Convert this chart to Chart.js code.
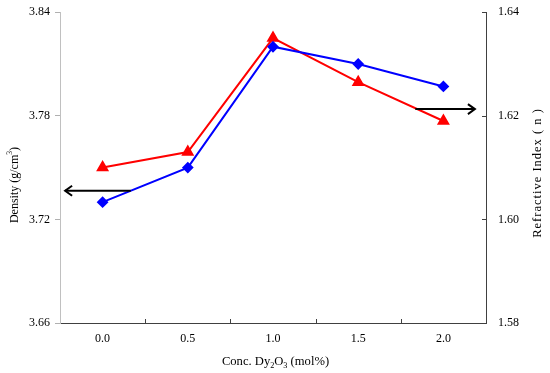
<!DOCTYPE html>
<html><head><meta charset="utf-8">
<script src="https://cdn.jsdelivr.net/npm/chart.js@4.4.0/dist/chart.umd.min.js"></script>
<style>html,body{margin:0;padding:0;background:#fff}#wrap{width:550px;height:373px}</style>
</head><body><div id="wrap"><canvas id="c" width="550" height="373"></canvas></div>
<script>
const categories = ['0.0', '0.5', '1.0', '1.5', '2.0'];
const density = [3.730, 3.750, 3.820, 3.810, 3.797];
const refractiveIndex = [1.610, 1.613, 1.635, 1.6265, 1.619];
const densityTicks = [3.66, 3.72, 3.78, 3.84];
const indexTicks = [1.58, 1.60, 1.62, 1.64];
// rich-text titles: [text, kind] where kind: '' normal, 'sub', 'sup'
const xTitle = [['Conc. Dy', ''], ['2', 'sub'], ['O', ''], ['3', 'sub'], [' (mol%)', '']];
const yLeftTitle = [['Density (g/cm', ''], ['3', 'sup'], [')', '']];
const yRightTitle = [['Refractive Index ( n )', '']];

const FONT = '"Liberation Serif", "Times New Roman", serif';

function richWidth(ctx, parts, size, spacing) {
  let w = 0;
  parts.forEach(([t, k]) => {
    ctx.font = (k ? size * 0.65 : size) + 'px ' + FONT;
    w += ctx.measureText(t).width + spacing * t.length;
  });
  return w;
}
function drawRich(ctx, parts, cx, cy, size, spacing) {
  ctx.letterSpacing = spacing + 'px';
  const w = richWidth(ctx, parts, size, spacing);
  let x = cx - w / 2;
  ctx.textAlign = 'left'; ctx.textBaseline = 'middle';
  parts.forEach(([t, k]) => {
    const s = k ? size * 0.65 : size;
    ctx.font = s + 'px ' + FONT;
    const dy = k === 'sub' ? size * 0.3 : k === 'sup' ? -size * 0.38 : 0;
    ctx.fillText(t, x, cy + dy);
    x += ctx.measureText(t).width + (ctx.letterSpacing === spacing + 'px' ? 0 : spacing * t.length);
  });
  ctx.letterSpacing = '0px';
}

const deco = {
  id: 'deco',
  afterDraw(chart) {
    const ctx = chart.ctx, a = chart.chartArea;
    const x = chart.scales.x, yl = chart.scales.y, yr = chart.scales.y2;
    ctx.save();
    ctx.strokeStyle = '#404040'; ctx.lineWidth = 1;
    for (let i = 0; i < categories.length - 1; i++) {
      const px = Math.round(x.getPixelForValue(i + 0.5)) + 0.5;
      ctx.beginPath(); ctx.moveTo(px, a.bottom); ctx.lineTo(px, a.bottom - 4); ctx.stroke();
    }
    indexTicks.forEach(v => {
      const py = Math.round(yr.getPixelForValue(v)) + 0.5;
      ctx.beginPath(); ctx.moveTo(a.right - 4, py); ctx.lineTo(a.right + 1, py); ctx.stroke();
    });
    ctx.strokeStyle = '#000'; ctx.lineWidth = 2;
    function arrow(x1, x2, y) {
      const d = x2 > x1 ? 1 : -1;
      ctx.beginPath(); ctx.moveTo(x1, y); ctx.lineTo(x2, y); ctx.stroke();
      ctx.beginPath(); ctx.moveTo(x2 - d * 7, y - 5); ctx.lineTo(x2, y); ctx.lineTo(x2 - d * 7, y + 5); ctx.stroke();
    }
    arrow(x.getPixelForValue(0.33), x.getPixelForValue(-0.44), yl.getPixelForValue(3.7366));
    arrow(x.getPixelForValue(3.67), x.getPixelForValue(4.37), yr.getPixelForValue(1.6213));
    ctx.fillStyle = '#000';
    drawRich(ctx, xTitle, 275.5, 362, 12.6, 0);
    ctx.save(); ctx.translate(15, 185); ctx.rotate(-Math.PI / 2);
    drawRich(ctx, yLeftTitle, 0, 0, 12, 0); ctx.restore();
    ctx.save(); ctx.translate(538, 162); ctx.rotate(-Math.PI / 2);
    drawRich(ctx, yRightTitle, 0, 0, 12.5, 1); ctx.restore();
    ctx.restore();
  }
};

new Chart(document.getElementById('c'), {
  type: 'line',
  data: {
    labels: categories,
    datasets: [
      { label: 'Density', data: density, yAxisID: 'y', borderColor: '#0000ff', backgroundColor: '#0000ff',
        borderWidth: 2, pointStyle: 'rectRot', pointRadius: 4.5, pointHoverRadius: 4.5, tension: 0 },
      { label: 'Refractive Index', data: refractiveIndex, yAxisID: 'y2', borderColor: '#ff0000', backgroundColor: '#ff0000',
        borderWidth: 2, pointStyle: 'triangle', pointRadius: 5.5, pointHoverRadius: 5.5, tension: 0 }
    ]
  },
  options: {
    responsive: false, animation: false,
    layout: { padding: { top: 12, left: 0, right: 0, bottom: 0 } },
    plugins: { legend: { display: false }, tooltip: { enabled: false } },
    scales: {
      x: {
        offset: true,
        grid: { display: false },
        border: { display: true, color: '#404040', width: 1 },
        ticks: { color: '#000', font: { family: FONT, size: 12 }, padding: 1 },
        afterFit(s) { s.height = 50; }
      },
      y: {
        position: 'left', min: 3.66, max: 3.84,
        afterBuildTicks(s) { s.ticks = densityTicks.map(v => ({ value: v })); },
        grid: { drawOnChartArea: false, color: '#b0b0b0', tickLength: 5 },
        border: { display: true, color: '#c0c0c0', width: 1 },
        ticks: { color: '#000', font: { family: FONT, size: 12 }, padding: 5, callback: v => v.toFixed(2) },
        afterFit(s) { s.width = 60; }
      },
      y2: {
        position: 'right', min: 1.58, max: 1.64,
        afterBuildTicks(s) { s.ticks = indexTicks.map(v => ({ value: v })); },
        grid: { display: false },
        border: { display: true, color: '#404040', width: 1 },
        ticks: { color: '#000', font: { family: FONT, size: 12 }, padding: 4, callback: v => v.toFixed(2) },
        afterFit(s) { s.width = 64; }
      }
    }
  },
  plugins: [deco]
});
</script></body></html>
